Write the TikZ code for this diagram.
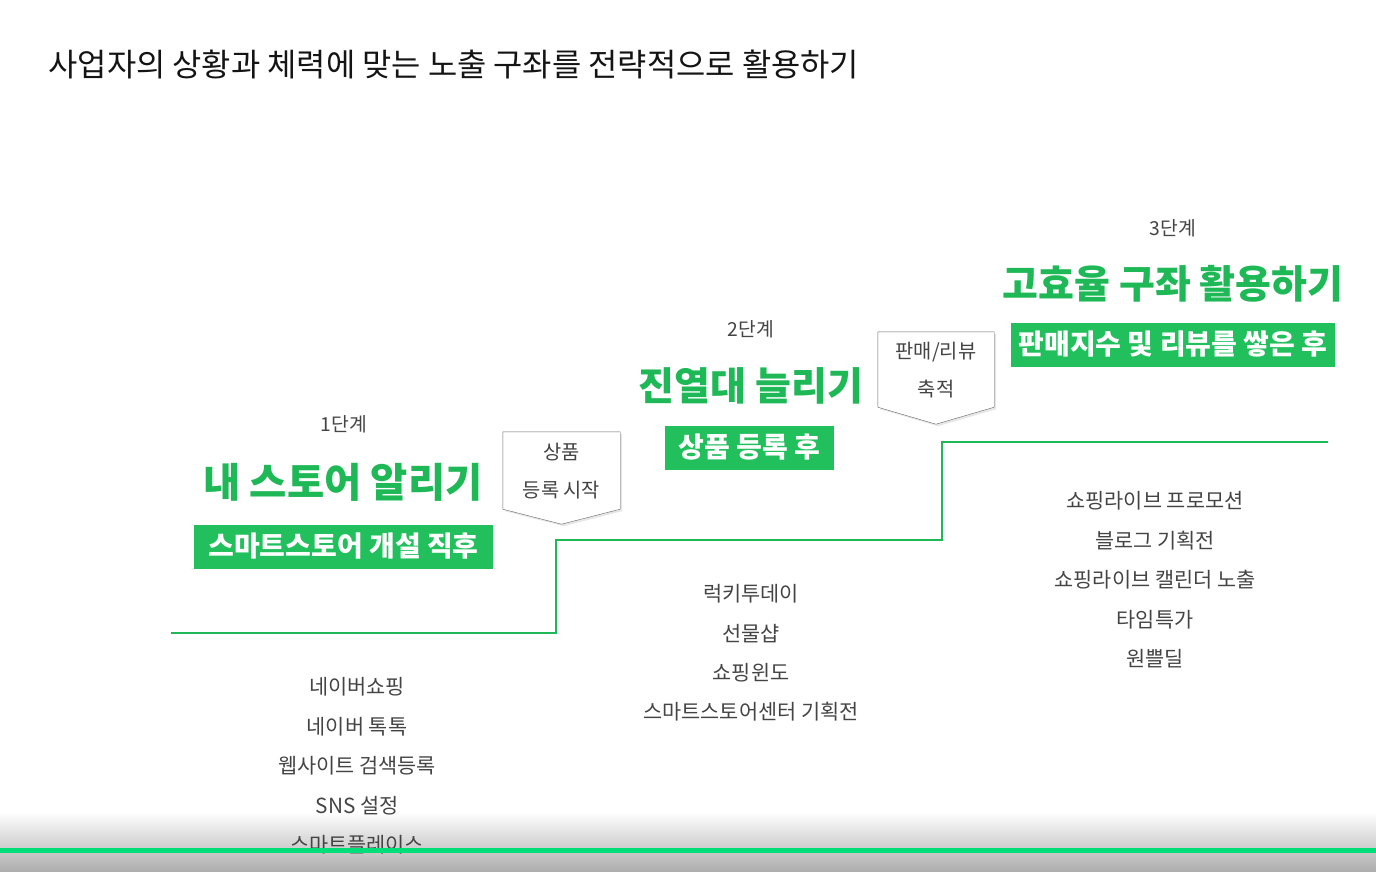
\documentclass[tikz,border=0pt]{standalone}
\usepackage{fontspec}
\setmainfont{Noto Sans CJK KR}
\usepackage{xcolor}
\usetikzlibrary{positioning,calc,shadows,backgrounds}
\definecolor{stepgreen}{RGB}{30,184,86}
\definecolor{boxgreen}{RGB}{33,192,92}
\definecolor{bargreen}{RGB}{0,222,122}
\definecolor{textgray}{RGB}{68,68,68}
\definecolor{titleblack}{RGB}{20,20,20}

\begin{document}
\begin{tikzpicture}[x=1pt, y=-1pt,
  stage/.style={font=\fontsize{19.3}{19.3}\selectfont, text=textgray},
  goal/.style={font=\fontsize{39}{39}\selectfont\bfseries, text=stepgreen},
  tag/.style={fill=boxgreen, text=white, font=\fontsize{28}{28}\selectfont\bfseries, minimum height=44pt, inner xsep=0pt},
  item/.style={font=\fontsize{20.8}{20.8}\selectfont, text=textgray},
  callout/.style={font=\fontsize{19.8}{38}\selectfont, text=textgray, align=center, minimum width=117pt, minimum height=76pt, inner sep=0pt},
  pointer/.style={draw=gray!80!black, fill=white, drop shadow={shadow xshift=2pt, shadow yshift=-2pt, opacity=0.2}},
  stepline/.style={stepgreen, line width=2.8pt}
]
\useasboundingbox (0,0) rectangle (1376,872);

% Bottom fade
\shade[top color=white, bottom color=gray!65] (0,812) rectangle (1376,872);

% Title
\node[anchor=west, font=\fontsize{31.8}{31.8}\selectfont, text=titleblack] (title) at (45,64) {사업자의 상황과 체력에 맞는 노출 구좌를 전략적으로 활용하기};

% Stage 1
\node[stage] (s1) at (344,424) {1단계};
\node[goal, font=\fontsize{40.5}{40.5}\selectfont\bfseries] (g1) at (343,482) {내 스토어 알리기};
\node[tag, minimum width=299pt] (t1) at (343.5,546.5) {스마트스토어 개설 직후};

% Stage 2
\node[stage] (s2) at (751,329) {2단계};
\node[goal] (g2) at (751,386) {진열대 늘리기};
\node[tag, minimum width=169pt] (t2) at (749.5,447.5) {상품 등록 후};

% Stage 3
\node[stage] (s3) at (1173,228) {3단계};
\node[goal] (g3) at (1173,284) {고효율 구좌 활용하기};
\node[tag, minimum width=324pt] (t3) at (1173,344.5) {판매지수 및 리뷰를 쌓은 후};

% Callouts
\node[callout] (c1) at (561.5,471) {상품\\등록 시작};
\node[callout, minimum width=116pt, minimum height=74pt] (c2) at (936,370) {판매/리뷰\\축적};
\begin{scope}[on background layer]
\draw[pointer] ($(c1.north west)+(0,-1)$) -- ($(c1.north east)+(0,-1)$) -- (c1.south east) -- ($(c1.south)+(0,15)$) -- (c1.south west) -- cycle;
\draw[pointer] ($(c2.north west)+(0,-1)$) -- ($(c2.north east)+(0,-1)$) -- (c2.south east) -- ($(c2.south)+(0,17)$) -- (c2.south west) -- cycle;
\end{scope}

% Steps
\coordinate (start) at (171,633);
\coordinate (end) at (1328,442);
\draw[stepline] (start) -| (556,540) -| (942,442) -- (end);

% Exposure lists
\foreach \txt [count=\i] in {네이버쇼핑, 네이버 톡톡, 웹사이트 검색등록, SNS 설정, 스마트플레이스}
  \node[item] (a\i) at (357, {687+39.5*(\i-1)}) {\txt};
\foreach \txt [count=\i] in {럭키투데이, 선물샵, 쇼핑윈도, 스마트스토어센터 기획전}
  \node[item] (b\i) at (751, {594+39.3*(\i-1)}) {\txt};
\foreach \txt [count=\i] in {쇼핑라이브 프로모션, 블로그 기획전, 쇼핑라이브 캘린더 노출, 타임특가, 원쁠딜}
  \node[item] (d\i) at (1155, {501+39.5*(\i-1)}) {\txt};

% Bottom bar
\fill[bargreen] (0,848) rectangle (1376,853);

\end{tikzpicture}
\end{document}
